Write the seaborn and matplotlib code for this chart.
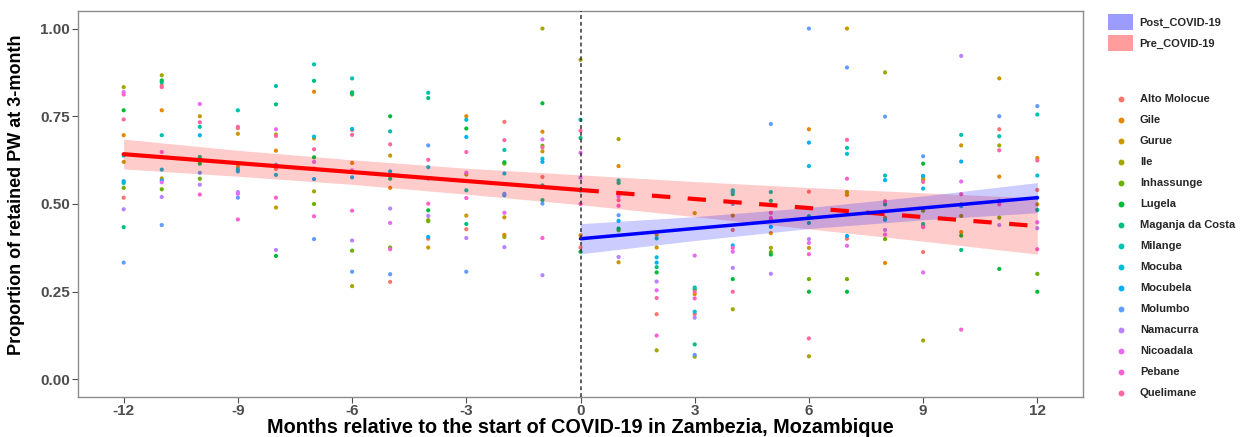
import numpy as np
import pandas as pd
import matplotlib
matplotlib.use("Agg")
import matplotlib.pyplot as plt
import seaborn as sns
from matplotlib.patches import Patch
from matplotlib.lines import Line2D
from matplotlib.ticker import FormatStrFormatter

N = np.nan
months = list(range(-12, 13))
districts = ["Alto Molocue", "Gile", "Gurue", "Ile", "Inhassunge", "Lugela",
             "Maganja da Costa", "Milange", "Mocuba", "Mocubela", "Molumbo",
             "Namacurra", "Nicoadala", "Pebane", "Quelimane"]
palette = ["#F8766D", "#E58700", "#C99800", "#A3A500", "#6BB100", "#00BA38",
           "#00BF7D", "#00C0AF", "#00BCD8", "#00B0F6", "#619CFF", "#B983FF",
           "#E76BF3", "#FD61D1", "#FF67A4"]

# proportion retained, months -12 .. 12
alto_molocue = [0.518, 0.838, N, 0.716, 0.600, 0.601, 0.711, 0.278, 0.401, 0.428, 0.734, 0.577, 0.376,
                N, 0.186, 0.186, 0.426, N, 0.535, 0.401, N, 0.363, N, 0.713, 0.540]
gile = [0.696, 0.767, N, 0.607, 0.652, 0.820, 0.617, 0.546, N, 0.750, 0.412, 0.706, 0.411,
        0.608, 0.412, 0.243, N, 0.417, 0.713, 0.526, 0.332, 0.569, 0.420, 0.578, 0.631]
gurue = [0.620, 0.573, 0.750, 0.700, 0.490, 0.687, 0.812, 0.638, 0.376, 0.467, 0.462, 0.650, N,
         0.334, 0.376, 0.474, 0.467, N, 0.375, 1.000, 0.461, 0.575, 0.667, 0.858, 0.499]
ile = [0.833, 0.867, N, N, 0.698, 0.536, 0.266, N, 0.454, 0.584, 0.406, 1.000, 0.911,
       0.685, 0.083, 0.065, 0.200, 0.375, 0.066, 0.534, 0.875, 0.111, 0.466, 0.667, N]
inhassunge = [0.546, 0.542, 0.572, N, N, 0.500, 0.367, 0.376, 0.451, N, 0.615, 0.666, N,
              0.425, N, N, N, 0.363, 0.286, 0.286, 0.400, 0.481, 0.499, 0.461, 0.301]
lugela = [0.767, 0.852, 0.615, N, 0.352, 0.633, 0.818, 0.750, 0.482, 0.715, 0.619, 0.787, 0.364,
          0.430, 0.305, 0.256, 0.286, 0.356, 0.250, 0.250, N, 0.615, 0.410, 0.315, 0.250]
maganja = [0.434, 0.847, 0.634, N, 0.784, 0.851, 0.814, 0.572, 0.802, 0.443, N, 0.511, 0.688,
           0.560, 0.320, 0.100, 0.528, 0.509, 0.465, N, 0.499, 0.438, 0.369, N, 0.483]
milange = [0.560, 0.696, 0.720, 0.767, 0.836, 0.898, 0.858, 0.707, 0.817, 0.539, 0.654, 0.553, 0.740,
           0.567, 0.402, 0.262, 0.539, 0.534, 0.446, 0.660, 0.581, 0.443, 0.697, 0.693, 0.755]
mocuba = [0.638, 0.598, 0.628, 0.599, 0.583, 0.692, 0.714, N, 0.605, 0.740, 0.587, 0.629, N,
          N, 0.348, 0.193, 0.534, N, 0.608, 0.643, 0.455, 0.544, 0.494, 0.509, 0.581]
mocubela = [0.565, 0.567, 0.696, 0.593, N, 0.571, 0.576, 0.593, 0.406, 0.691, 0.525, 0.620, 0.538,
            0.452, 0.333, N, 0.382, 0.435, 0.675, 0.409, 0.568, 0.580, 0.621, N, 0.518]
molumbo = [0.333, 0.440, 0.589, 0.518, 0.612, 0.400, 0.307, 0.300, 0.667, 0.307, 0.529, 0.501, N,
           0.468, N, 0.070, 0.500, 0.728, 1.000, 0.889, 0.749, 0.636, N, 0.750, 0.779]
namacurra = [0.485, 0.520, 0.555, 0.534, 0.369, N, 0.396, 0.487, 0.466, 0.403, 0.377, 0.297, 0.575,
             0.349, 0.279, 0.176, 0.318, 0.301, 0.400, N, 0.426, N, 0.922, 0.440, 0.431]
nicoadala = [0.819, 0.562, 0.785, 0.529, 0.713, 0.620, 0.596, 0.446, 0.572, 0.589, 0.475, 0.684, 0.646,
             0.522, 0.254, 0.353, 0.364, 0.455, 0.389, 0.381, 0.413, 0.305, 0.564, N, 0.448]
pebane = [0.812, 0.648, 0.527, 0.456, 0.518, 0.465, 0.481, 0.371, 0.501, 0.517, N, 0.403, 0.500,
          0.495, 0.125, 0.231, 0.375, 0.460, 0.357, 0.572, N, 0.434, 0.142, 0.499, 0.371]
quelimane = [0.741, 0.833, 0.733, 0.720, 0.694, 0.656, 0.697, 0.670, 0.626, 0.648, 0.682, 0.661, 0.709,
             0.511, 0.232, 0.250, 0.250, 0.475, 0.117, 0.683, 0.508, 0.563, 0.528, 0.653, 0.624]

series = [alto_molocue, gile, gurue, ile, inhassunge, lugela, maganja, milange, mocuba,
          mocubela, molumbo, namacurra, nicoadala, pebane, quelimane]

# fitted lines
pre_x = [-12, 0]
pre_y = [0.642, 0.540]
pre_ext_x = [0, 12]
pre_ext_y = [0.540, 0.437]
pre_band_x = [-12, -9, -6, -3, 0, 3, 6, 9, 12]
pre_band_lo = [0.600, 0.579, 0.556, 0.528, 0.498, 0.464, 0.429, 0.394, 0.357]
pre_band_hi = [0.685, 0.653, 0.626, 0.602, 0.583, 0.564, 0.547, 0.532, 0.517]
post_x = [0, 12]
post_y = [0.401, 0.518]
post_band_x = [0, 3, 6, 9, 12]
post_band_lo = [0.358, 0.396, 0.430, 0.455, 0.475]
post_band_hi = [0.444, 0.464, 0.490, 0.523, 0.561]

xticks = [-12, -9, -6, -3, 0, 3, 6, 9, 12]
yticks = [0.00, 0.25, 0.50, 0.75, 1.00]

rows = []
for name, vals in zip(districts, series):
    for m, v in zip(months, vals):
        if not np.isnan(v):
            rows.append((name, m, v))
df = pd.DataFrame(rows, columns=["District", "Month", "Prop"])

sns.set_theme(style="white")
plt.rcParams["font.family"] = ["Liberation Sans", "DejaVu Sans"]
plt.rcParams["font.weight"] = "bold"

fig = plt.figure(figsize=(12.44, 4.37), dpi=100)
ax = fig.add_axes([78 / 1244, 1 - 397 / 437, (1083 - 78) / 1244, (397 - 11) / 437])

sns.scatterplot(data=df, x="Month", y="Prop", hue="District", hue_order=districts,
                palette=palette, s=9, linewidth=0, ax=ax, legend=False, zorder=2)

ax.fill_between(pre_band_x, pre_band_lo, pre_band_hi, color="red", alpha=0.2, lw=0, zorder=3)
ax.fill_between(post_band_x, post_band_lo, post_band_hi, color="blue", alpha=0.2, lw=0, zorder=3)

sns.lineplot(x=pre_x, y=pre_y, color="red", lw=3.0, ax=ax, zorder=4)
sns.lineplot(x=pre_ext_x, y=pre_ext_y, color="red", lw=3.0, ax=ax, zorder=4,
             linestyle=(0, (4.4, 4.2)))
sns.lineplot(x=post_x, y=post_y, color="blue", lw=2.5, ax=ax, zorder=4)

ax.axvline(0, color="#333333", lw=1.1, linestyle=(0, (2.5, 2)), zorder=5)

ax.set_xlim(-13.2, 13.2)
ax.set_ylim(-0.05, 1.05)
ax.set_xticks(xticks)
ax.set_xticklabels([str(t) for t in xticks])
ax.set_yticks(yticks)
ax.yaxis.set_major_formatter(FormatStrFormatter("%.2f"))
ax.tick_params(axis="both", which="both", direction="out", length=4, width=0.8,
               color="#4D4D4D", labelsize=11, labelcolor="#4D4D4D", pad=2,
               bottom=True, left=True)
ax.tick_params(axis="x", pad=1)
for lab in ax.get_xticklabels() + ax.get_yticklabels():
    lab.set_fontweight("bold")
for sp in ax.spines.values():
    sp.set_color("#8C8C8C")
    sp.set_linewidth(1.0)

ax.set_xlabel("Months relative to the start of COVID-19 in Zambezia, Mozambique",
              fontsize=14.3, fontweight="bold", color="black")
ax.xaxis.set_label_coords((78 + 1083) / 2 / 1244, 1 - 433 / 437, transform=fig.transFigure)
ax.xaxis.label.set_verticalalignment("baseline")
ax.set_ylabel("Proportion of retained PW at 3-month",
              fontsize=13, fontweight="bold", color="black")
ax.yaxis.set_label_coords(-0.053, (397 - 195) / 386)

# legends
h1 = [Patch(facecolor="#9C9CFF", edgecolor="none"),
      Patch(facecolor="#FF9C9C", edgecolor="none")]
leg1 = fig.legend(h1, ["Post_COVID-19", "Pre_COVID-19"], loc="upper left",
                  bbox_to_anchor=(1104 / 1244, 1 - 10 / 437), frameon=False,
                  prop={"size": 8, "weight": "bold"}, handlelength=2.2, handleheight=1.8,
                  labelspacing=0.45, handletextpad=0.6, borderaxespad=0)
h2 = [Line2D([], [], marker="o", color=c, lw=0, markersize=3.2) for c in palette]
leg2 = fig.legend(h2, districts, loc="upper left",
                  bbox_to_anchor=(1110 / 1244, 1 - 90 / 437), frameon=False,
                  prop={"size": 8, "weight": "bold"}, handlelength=1.2,
                  labelspacing=0.99, handletextpad=1.1, borderaxespad=0)

fig.savefig("out.png", dpi=100)
